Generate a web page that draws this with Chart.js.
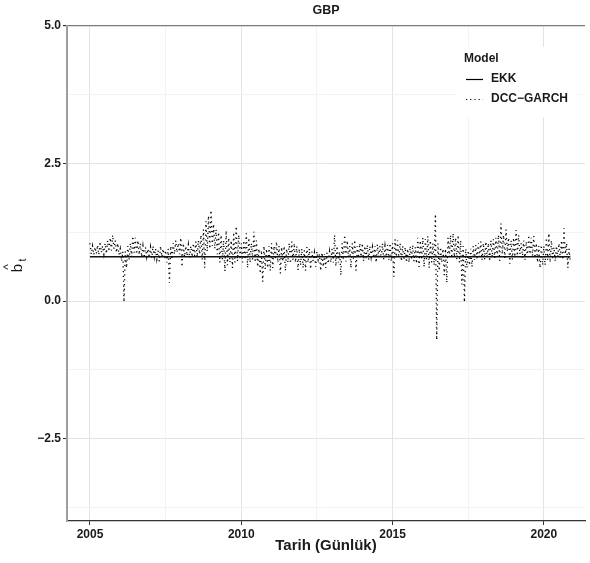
<!DOCTYPE html>
<html>
<head>
<meta charset="utf-8">
<script src="https://cdn.jsdelivr.net/npm/chart.js@4.4.0/dist/chart.umd.min.js"></script>
<style>
  html, body { margin: 0; padding: 0; background: #fff; }
  #wrap { width: 590px; height: 563px; }
</style>
</head>
<body>
<div id="wrap"><canvas id="betaChart" width="590" height="563"></canvas></div>
<script>
// Time-varying GBP beta: DCC-GARCH estimate (monthly high / low) vs. constant OLS (EKK)
const startYear = 2005;

// monthly upper values of the DCC-GARCH beta, one row per year (Jan..Dec)
const dccHigh = [
  1.05, 1.00, 0.98, 1.02, 1.08, 1.00, 1.05, 1.10, 1.15, 1.20, 1.10, 1.05,
  0.95, 0.90, 0.90, 1.00, 1.05, 1.18, 1.15, 1.10, 1.05, 1.00, 0.98, 0.95,
  0.98, 1.00, 0.95, 0.92, 1.00, 0.95, 0.92, 0.95, 1.00, 1.05, 1.10, 1.05,
  1.15, 1.05, 1.00, 1.02, 1.00, 1.05, 1.08, 1.10, 1.20, 1.30, 1.45, 1.55,
  1.65, 1.40, 1.30, 1.25, 1.20, 1.10, 1.28, 1.15, 1.10, 1.25, 1.36, 1.20,
  1.05, 1.10, 1.23, 1.15, 1.05, 1.26, 1.10, 0.95, 0.92, 1.00, 0.95, 1.00,
  1.05, 1.00, 1.08, 1.00, 0.98, 1.00, 0.95, 1.05, 1.08, 1.05, 1.00, 0.95,
  0.95, 0.92, 0.98, 0.95, 0.90, 0.88, 0.90, 0.85, 0.88, 0.85, 0.88, 0.90,
  0.95, 1.20, 1.00, 0.90, 1.05, 1.20, 1.10, 1.00, 1.05, 1.11, 1.00, 1.05,
  1.05, 1.00, 1.02, 1.00, 0.98, 1.00, 1.03, 1.00, 1.05, 1.00, 1.02, 1.05,
  1.05, 1.12, 1.10, 1.05, 1.00, 0.98, 0.95, 1.00, 1.02, 0.98, 1.15, 1.10,
  1.15, 1.12, 1.18, 1.10, 1.05, 1.58, 1.05, 0.98, 0.95, 0.95, 1.15, 1.20,
  1.23, 1.15, 1.20, 1.10, 1.00, 0.95, 0.92, 0.95, 1.00, 1.02, 1.05, 1.08,
  1.05, 1.08, 1.05, 1.10, 1.12, 1.15, 1.20, 1.41, 1.20, 1.30, 1.15, 1.10,
  1.15, 1.29, 1.20, 1.05, 1.10, 1.08, 1.20, 1.15, 1.18, 1.05, 1.00, 1.02,
  1.00, 1.15, 1.23, 1.10, 0.98, 1.00, 1.05, 1.10, 1.32, 1.05, 0.95
];

// monthly lower values of the DCC-GARCH beta
const dccLow = [
  0.85, 0.84, 0.86, 0.84, 0.88, 0.85, 0.86, 0.90, 0.92, 0.95, 0.88, 0.84,
  0.72, -0.02, 0.60, 0.75, 0.80, 0.88, 0.85, 0.84, 0.80, 0.78, 0.80, 0.78,
  0.78, 0.80, 0.76, 0.72, 0.80, 0.76, 0.70, 0.33, 0.75, 0.85, 0.88, 0.85,
  0.62, 0.80, 0.82, 0.78, 0.80, 0.82, 0.80, 0.85, 0.75, 0.60, 0.90, 0.95,
  1.00, 0.95, 0.85, 0.70, 0.75, 0.54, 0.65, 0.70, 0.60, 0.70, 0.72, 0.75,
  0.70, 0.75, 0.60, 0.70, 0.75, 0.70, 0.62, 0.50, 0.35, 0.58, 0.60, 0.55,
  0.60, 0.75, 0.70, 0.50, 0.72, 0.55, 0.70, 0.68, 0.75, 0.70, 0.56, 0.65,
  0.60, 0.55, 0.70, 0.58, 0.72, 0.62, 0.75, 0.55, 0.62, 0.60, 0.68, 0.70,
  0.70, 0.63, 0.70, 0.47, 0.75, 0.72, 0.80, 0.60, 0.75, 0.55, 0.78, 0.80,
  0.72, 0.78, 0.75, 0.80, 0.78, 0.70, 0.80, 0.78, 0.75, 0.80, 0.75, 0.72,
  0.44, 0.80, 0.78, 0.72, 0.75, 0.70, 0.70, 0.75, 0.72, 0.68, 0.62, 0.75,
  0.62, 0.75, 0.60, 0.70, 0.65, -0.71, 0.55, 0.70, 0.47, 0.33, 0.80, 0.78,
  0.80, 0.75, 0.70, 0.30, -0.02, 0.60, 0.65, 0.62, 0.75, 0.78, 0.80, 0.75,
  0.75, 0.80, 0.72, 0.80, 0.78, 0.80, 0.73, 0.85, 0.78, 0.90, 0.68, 0.75,
  0.80, 0.82, 0.85, 0.78, 0.75, 0.80, 0.85, 0.82, 0.78, 0.70, 0.60, 0.65,
  0.65, 0.75, 0.70, 0.78, 0.72, 0.80, 0.78, 0.75, 0.85, 0.60, 0.70
];

// constant OLS beta over the full sample
const ekkDates = [2005.0, 2020.875];
const ekkBeta = [0.805, 0.805];

const xMajor = [2005, 2010, 2015, 2020];
const xMinor = [2007.5, 2012.5, 2017.5];
const yMajor = [-2.5, 0, 2.5, 5];
const yMinor = [-3.75, -1.25, 1.25, 3.75];

const FONT = '"Liberation Sans", Arial, Helvetica, sans-serif';
const INK = '#1a1a1a';

// interleave high and low within each month -> dotted zig-zag
const dccPoints = [];
dccHigh.forEach((hi, m) => {
  dccPoints.push({ x: startYear + m / 12, y: hi });
  dccPoints.push({ x: startYear + (m + 0.5) / 12, y: dccLow[m] });
});
const ekkPoints = ekkDates.map((d, i) => ({ x: d, y: ekkBeta[i] }));

const isMajor = (list, v) => list.some(t => Math.abs(t - v) < 1e-6);
const fmtY = v => (v < 0 ? '\u2212' : '') + Math.abs(v).toFixed(1);

// title, axis titles and the legend box
const decorations = {
  id: 'decorations',
  afterDraw(chart) {
    const ctx = chart.ctx;
    const area = chart.chartArea;
    const cx = (area.left + area.right) / 2;
    ctx.save();
    ctx.fillStyle = INK;
    ctx.textAlign = 'center';
    ctx.textBaseline = 'middle';

    ctx.font = 'bold 12.5px ' + FONT;
    ctx.fillText('GBP', cx, 11);

    ctx.font = 'bold 15px ' + FONT;
    ctx.fillText('Tarih (Günlük)', cx, 546);

    // y title: b-hat with subscript t, rotated
    ctx.save();
    ctx.translate(18, 268);
    ctx.rotate(-Math.PI / 2);
    ctx.font = '15px ' + FONT;
    ctx.fillText('b', 0, 0);
    ctx.font = '12px ' + FONT;
    ctx.fillText('^', 1, -9);
    ctx.font = '10px ' + FONT;
    ctx.fillText('t', 8, 5);
    ctx.restore();

    // legend
    ctx.fillStyle = '#fff';
    ctx.fillRect(457, 47, 120, 70);
    ctx.fillStyle = INK;
    ctx.textAlign = 'left';
    ctx.font = 'bold 12px ' + FONT;
    ctx.fillText('Model', 464, 59);
    ctx.fillText('EKK', 491, 79);
    ctx.fillText('DCC\u2212GARCH', 491, 99);

    ctx.strokeStyle = '#000';
    ctx.lineWidth = 1.2;
    ctx.beginPath();
    ctx.moveTo(466, 79.5);
    ctx.lineTo(483, 79.5);
    ctx.stroke();
    ctx.setLineDash([1.2, 3]);
    ctx.beginPath();
    ctx.moveTo(466, 99.5);
    ctx.lineTo(483, 99.5);
    ctx.stroke();
    ctx.restore();
  }
};

new Chart(document.getElementById('betaChart'), {
  type: 'line',
  data: {
    datasets: [
      {
        label: 'EKK',
        data: ekkPoints,
        borderColor: '#111',
        borderWidth: 1.6,
        pointRadius: 0,
        tension: 0
      },
      {
        label: 'DCC-GARCH',
        data: dccPoints,
        borderColor: '#000',
        borderWidth: 1.3,
        borderDash: [1.2, 3.6],
        pointRadius: 0,
        tension: 0
      }
    ]
  },
  options: {
    responsive: false,
    animation: false,
    events: [],
    layout: { padding: { top: 26, right: 5, left: 0, bottom: 0 } },
    plugins: {
      legend: { display: false },
      tooltip: { enabled: false }
    },
    scales: {
      x: {
        type: 'linear',
        min: 2004.24,
        max: 2021.36,
        afterBuildTicks(scale) {
          scale.ticks = xMajor.concat(xMinor).sort((a, b) => a - b).map(v => ({ value: v }));
        },
        afterFit(scale) { scale.height = 42; },
        border: { display: true, color: '#333', width: 1.2 },
        grid: {
          color: c => isMajor(xMajor, c.tick.value) ? '#e3e3e3' : '#f0f0f0',
          lineWidth: c => isMajor(xMajor, c.tick.value) ? 1 : 0.8,
          tickColor: c => isMajor(xMajor, c.tick.value) ? '#333' : 'rgba(0,0,0,0)',
          tickLength: 4
        },
        ticks: {
          autoSkip: false,
          maxRotation: 0,
          padding: 2,
          color: INK,
          font: { family: FONT, size: 12, weight: 'bold' },
          callback: v => isMajor(xMajor, v) ? String(v) : ''
        }
      },
      y: {
        min: -4,
        max: 5,
        afterBuildTicks(scale) {
          scale.ticks = yMinor.concat(yMajor).sort((a, b) => a - b).map(v => ({ value: v }));
        },
        afterFit(scale) { scale.width = 67; },
        border: { display: true, color: '#9e9e9e', width: 2 },
        grid: {
          color: c => c.tick.value === 5 ? '#7a7a7a' : (isMajor(yMajor, c.tick.value) ? '#e3e3e3' : '#f0f0f0'),
          lineWidth: c => c.tick.value === 5 ? 1.2 : (isMajor(yMajor, c.tick.value) ? 1 : 0.8),
          tickColor: c => isMajor(yMajor, c.tick.value) ? '#333' : 'rgba(0,0,0,0)',
          tickLength: 4
        },
        ticks: {
          autoSkip: false,
          padding: 2,
          color: INK,
          font: { family: FONT, size: 12, weight: 'bold' },
          callback: v => isMajor(yMajor, v) ? fmtY(v) : ''
        }
      }
    }
  },
  plugins: [decorations]
});
</script>
</body>
</html>
